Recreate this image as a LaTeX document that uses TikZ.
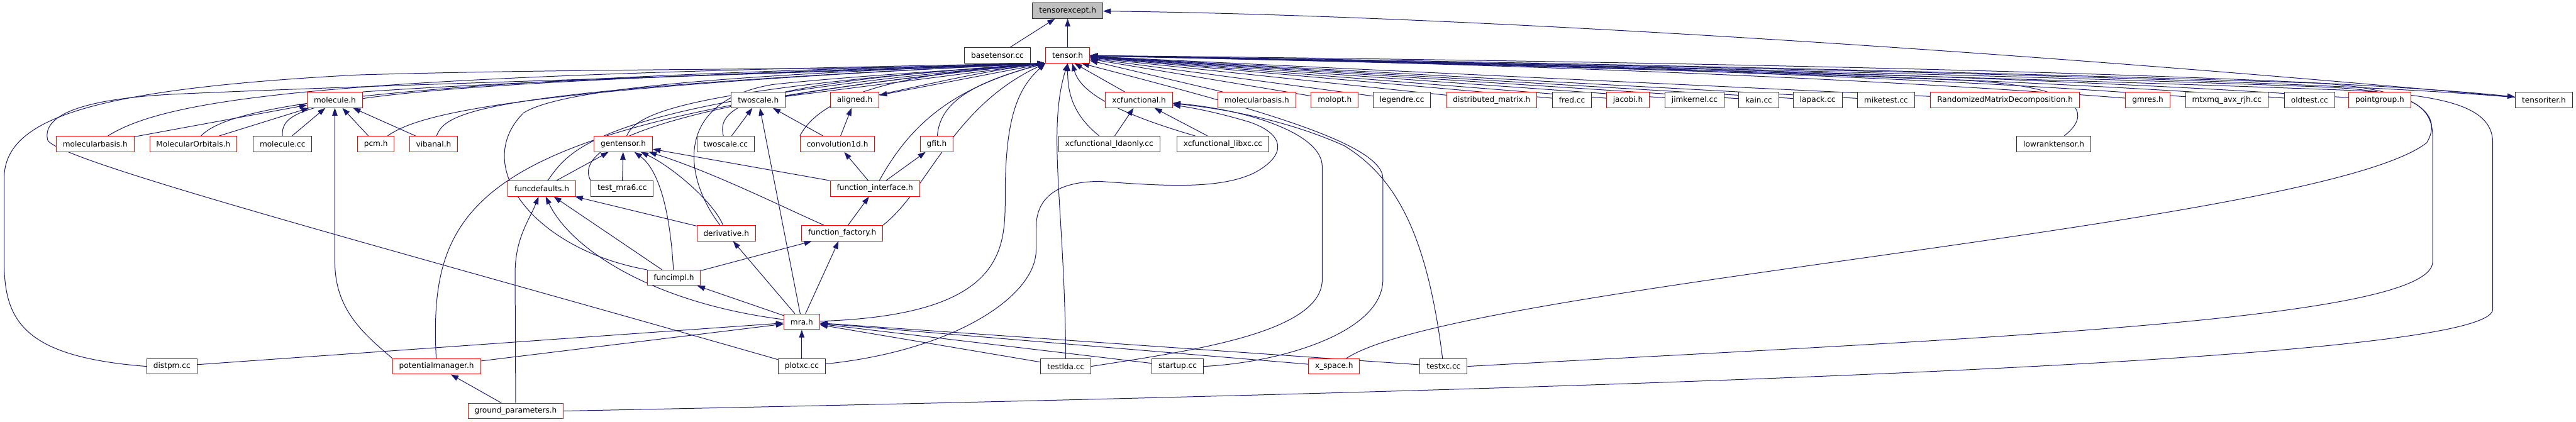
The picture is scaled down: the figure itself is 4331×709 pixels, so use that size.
\documentclass[tikz,border=0pt]{standalone}
\usepackage{fontspec}
\setmainfont{DejaVu Sans}
\usepackage{tikz}
\usetikzlibrary{arrows.meta, positioning, backgrounds}
\definecolor{edgeblue}{HTML}{191970}
\definecolor{rootgray}{HTML}{BFBFBF}

\begin{document}
\begin{tikzpicture}[
        % styles
        x=0.02cm, y=-0.02cm,
        >={Triangle[length=0.26cm, width=0.18cm]},
        filebox/.style={
            draw, rectangle, fill=white, line width=0.6pt,
            minimum height=0.52cm, inner xsep=0.22cm, inner ysep=0pt,
            font=\fontsize{7.3}{8.5}\selectfont
        },
        redfile/.style={filebox, draw=red},
        blackfile/.style={filebox, draw=black!80},
        rootfile/.style={filebox, draw=black!80, fill=rootgray},
        dep/.style={->, draw=edgeblue, line width=0.6pt}
    ]
    \useasboundingbox (0,0) rectangle (4331,709);

    % 1. files
    % top
    \node[rootfile] (tensorexcept) at (1795,18) {tensorexcept.h};
    \node[blackfile] (basetensor) at (1677,93) {basetensor.cc};
    \node[redfile] (tensor) at (1795,93) {tensor.h};

    % second row
    \node[redfile] (moleculeh) at (563,168) {molecule.h};
    \node[blackfile] (twoscaleh) at (1275,168) {twoscale.h};
    \node[redfile] (alignedh) at (1437,168) {aligned.h};
    \node[redfile] (xcfunc) at (1915,168) {xcfunctional.h};
    \node[redfile] (molbasisB) at (2113,168) {molecularbasis.h};
    \node[redfile] (molopt) at (2244,168) {molopt.h};
    \node[blackfile] (legendre) at (2357,168) {legendre.cc};
    \node[redfile] (distmatrix) at (2508,168) {distributed\_matrix.h};
    \node[blackfile] (fred) at (2643,168) {fred.cc};
    \node[redfile] (jacobi) at (2737,168) {jacobi.h};
    \node[blackfile] (jimkernel) at (2849,168) {jimkernel.cc};
    \node[blackfile] (kain) at (2957,168) {kain.cc};
    \node[blackfile] (lapack) at (3056,168) {lapack.cc};
    \node[blackfile] (miketest) at (3171,168) {miketest.cc};
    \node[redfile] (randmatdec) at (3371,168) {RandomizedMatrixDecomposition.h};
    \node[redfile] (gmres) at (3611,168) {gmres.h};
    \node[blackfile] (mtxmq) at (3744,168) {mtxmq\_avx\_rjh.cc};
    \node[blackfile] (oldtest) at (3883,168) {oldtest.cc};
    \node[redfile] (pointgroup) at (4001,168) {pointgroup.h};
    \node[blackfile] (tensoriter) at (4277,168) {tensoriter.h};

    % third row
    \node[redfile] (molbasisA) at (160,242) {molecularbasis.h};
    \node[redfile] (molorbitals) at (325,242) {MolecularOrbitals.h};
    \node[blackfile] (moleculecc) at (475,242) {molecule.cc};
    \node[redfile] (pcm) at (632,242) {pcm.h};
    \node[redfile] (vibanal) at (729,242) {vibanal.h};
    \node[redfile] (gentensor) at (1048,242) {gentensor.h};
    \node[blackfile] (twoscalecc) at (1220,242) {twoscale.cc};
    \node[redfile] (conv1d) at (1408,242) {convolution1d.h};
    \node[redfile] (gfit) at (1575,242) {gfit.h};
    \node[blackfile] (xcldaonly) at (1865,242) {xcfunctional\_ldaonly.cc};
    \node[blackfile] (xclibxc) at (2056,242) {xcfunctional\_libxc.cc};
    \node[blackfile] (lowrank) at (3453,242) {lowranktensor.h};

    % lower rows
    \node[redfile] (funcdefaults) at (911,317) {funcdefaults.h};
    \node[blackfile] (testmrasix) at (1046,317) {test\_mra6.cc};
    \node[redfile] (funcinterface) at (1471,317) {function\_interface.h};
    \node[redfile] (derivative) at (1221,392) {derivative.h};
    \node[redfile] (funcfactory) at (1416,392) {function\_factory.h};
    \node[redfile] (funcimpl) at (1133,467) {funcimpl.h};
    \node[redfile] (mra) at (1348,541) {mra.h};
    \node[blackfile] (distpm) at (289,616) {distpm.cc};
    \node[redfile] (potmanager) at (734,616) {potentialmanager.h};
    \node[blackfile] (plotxc) at (1348,616) {plotxc.cc};
    \node[blackfile] (testlda) at (1792,616) {testlda.cc};
    \node[blackfile] (startup) at (1980,616) {startup.cc};
    \node[redfile] (xspace) at (2243,616) {x\_space.h};
    \node[blackfile] (testxc) at (2427,616) {testxc.cc};
    \node[redfile] (groundparams) at (867,691) {ground\_parameters.h};

    % 2. include edges (arrow at the included file)
    \begin{pgfonlayer}{background}
    % into tensorexcept.h
    \draw[dep] (basetensor) -- (tensorexcept);
    \draw[dep] (tensor) -- (tensorexcept);
    \draw[dep] (tensoriter) .. controls (3300,78) and (2400,25) .. (tensorexcept);

    % into tensor.h from the left
    \draw[dep] (distpm.west) .. controls (40,600) and (7,540) .. (7,440) -- (7,300)
        .. controls (7,200) and (150,150) .. (600,126) .. controls (1000,114) and (1500,118) .. (tensor.south west);
    \draw[dep] (plotxc) .. controls (700,430) and (90,270) .. (80,235)
        .. controls (70,190) and (150,165) .. (300,158) .. controls (700,140) and (1400,122) .. (tensor.south west);
    \draw[dep] (molbasisA) .. controls (290,160) and (600,126) .. (tensor.south west);
    \draw[dep] (molorbitals) .. controls (380,185) and (560,134) .. (tensor.south west);
    \draw[dep] (moleculecc.north) .. controls (470,170) and (560,142) .. (tensor.south west);
    \draw[dep] (pcm) .. controls (700,195) and (830,150) .. (tensor.south west);
    \draw[dep] (vibanal) .. controls (750,185) and (820,150) .. (tensor.south west);
    \draw[dep] (moleculeh.north east) .. controls (900,134) and (1400,120) .. (tensor.south west);
    \draw[dep] (potmanager) .. controls (720,330) and (800,200) .. (tensor.south west);
    \draw[dep] (funcimpl.north west) .. controls (900,420) and (790,280) .. (880,190)
        .. controls (960,138) and (1400,120) .. (tensor.south west);
    \draw[dep] (funcdefaults) .. controls (960,250) and (1000,170) .. (tensor.south west);
    \draw[dep] (testmrasix.north west) .. controls (975,270) and (990,180) .. (tensor.south west);
    \draw[dep] (gentensor) .. controls (1070,190) and (1150,150) .. (tensor.south west);
    \draw[dep] (derivative) .. controls (1150,300) and (1130,170) .. (1300,142)
        .. controls (1450,126) and (1650,116) .. (tensor.south west);
    \draw[dep] (twoscaleh) -- (tensor.south west);
    \draw[dep] (tensor.south west) -- (alignedh);
    \draw[dep] (alignedh) .. controls (1550,144) and (1650,120) .. (tensor.south west);
    \draw[dep] (twoscalecc) .. controls (1200,170) and (1300,138) .. (tensor.south west);
    \draw[dep] (conv1d.north west) .. controls (1375,170) and (1480,125) .. (tensor.south west);
    \draw[dep] (gfit) .. controls (1580,170) and (1640,138) .. (tensor.south west);
    \draw[dep] (funcinterface) .. controls (1530,210) and (1600,148) .. (tensor.south west);
    \draw[dep] (funcfactory.north east) .. controls (1560,320) and (1600,180) .. (tensor.south west);
    \draw[dep] (mra) .. controls (1690,530) and (1690,420) .. (1690,330)
        .. controls (1690,200) and (1710,150) .. (tensor.south west);

    % into tensor.h from below
    \draw[dep] (testlda) .. controls (1790,350) and (1760,220) .. (tensor.south);
    \draw[dep] (xcldaonly) .. controls (1800,190) and (1795,150) .. (tensor.south);
    \draw[dep] (xclibxc) .. controls (1860,185) and (1815,150) .. (tensor.-60);
    \draw[dep] (xcfunc) -- (tensor.-50);
    \draw[dep] (startup.east) .. controls (2150,610) and (2325,560) .. (2325,470) -- (2325,300)
        .. controls (2325,240) and (2100,180) .. (tensor.-30);

    % into tensor.h from the right
    \draw[dep] (molbasisB) -- (tensor);
    \draw[dep] (molopt) -- (tensor);
    \draw[dep] (legendre) -- (tensor);
    \draw[dep] (distmatrix) -- (tensor);
    \draw[dep] (fred) -- (tensor);
    \draw[dep] (jacobi) -- (tensor);
    \draw[dep] (jimkernel) -- (tensor);
    \draw[dep] (kain) -- (tensor);
    \draw[dep] (lapack) -- (tensor);
    \draw[dep] (miketest) -- (tensor);
    \draw[dep] (randmatdec) -- (tensor);
    \draw[dep] (gmres) .. controls (3000,120) and (2200,100) .. (tensor);
    \draw[dep] (mtxmq) .. controls (3100,118) and (2200,100) .. (tensor);
    \draw[dep] (oldtest) .. controls (3200,118) and (2200,100) .. (tensor);
    \draw[dep] (pointgroup) .. controls (3300,118) and (2200,100) .. (tensor);
    \draw[dep] (lowrank) .. controls (3520,190) and (3500,145) .. (3300,135)
        .. controls (2800,115) and (2200,102) .. (tensor);
    \draw[dep] (tensor) .. controls (2500,100) and (3800,118) .. (tensoriter);
    \draw[dep] (tensoriter) .. controls (3800,126) and (2500,106) .. (tensor);
    \draw[dep] (xspace) .. controls (2450,480) and (3900,380) .. (4080,240)
        .. controls (4110,190) and (4060,150) .. (3900,140) .. controls (3200,116) and (2300,100) .. (tensor);
    \draw[dep] (testxc.east) .. controls (3300,570) and (4090,540) .. (4090,440) -- (4090,230)
        .. controls (4090,170) and (4040,152) .. (3900,146) .. controls (3200,120) and (2300,102) .. (tensor);
    \draw[dep] (groundparams.east) .. controls (3000,650) and (4191,600) .. (4191,520) -- (4191,240)
        .. controls (4191,175) and (4100,156) .. (3900,150) .. controls (3200,124) and (2300,104) .. (tensor);

    % molecule.h
    \draw[dep] (molbasisA) -- (moleculeh);
    \draw[dep] (molorbitals) -- (moleculeh);
    \draw[dep] (moleculecc) -- (moleculeh);
    \draw[dep] (pcm) -- (moleculeh);
    \draw[dep] (vibanal) -- (moleculeh);
    \draw[dep] (potmanager.north west) .. controls (610,560) and (563,520) .. (563,440) -- (moleculeh.south);

    % gentensor.h
    \draw[dep] (funcdefaults) -- (gentensor);
    \draw[dep] (testmrasix) -- (gentensor);
    \draw[dep] (funcimpl) .. controls (1125,330) and (1100,280) .. (gentensor);
    \draw[dep] (derivative) .. controls (1200,340) and (1130,280) .. (gentensor);
    \draw[dep] (funcfactory) .. controls (1320,350) and (1200,290) .. (gentensor);
    \draw[dep] (funcinterface) -- (gentensor);

    % twoscale.h, aligned.h, convolution1d.h, gfit.h
    \draw[dep] (twoscalecc) -- (twoscaleh);
    \draw[dep] (conv1d) -- (twoscaleh);
    \draw[dep] (mra) -- (twoscaleh);
    \draw[dep] (conv1d) -- (alignedh);
    \draw[dep] (funcinterface) -- (conv1d);
    \draw[dep] (funcinterface) -- (gfit);
    \draw[dep] (funcfactory) -- (funcinterface);

    % funcdefaults.h
    \draw[dep] (groundparams.north) -- (866,460) .. controls (866,400) and (890,370) .. (funcdefaults);
    \draw[dep] (mra) .. controls (1100,510) and (960,420) .. (funcdefaults);
    \draw[dep] (funcimpl) -- (funcdefaults);
    \draw[dep] (derivative) -- (funcdefaults);

    % derivative.h, function_factory.h, funcimpl.h
    \draw[dep] (mra) -- (derivative);
    \draw[dep] (mra) -- (funcfactory);
    \draw[dep] (funcimpl) -- (funcfactory);
    \draw[dep] (mra) -- (funcimpl);

    % mra.h
    \draw[dep] (plotxc) -- (mra);
    \draw[dep] (distpm) -- (mra);
    \draw[dep] (potmanager) -- (mra);
    \draw[dep] (testlda) -- (mra);
    \draw[dep] (startup) -- (mra);
    \draw[dep] (xspace) -- (mra);
    \draw[dep] (testxc) -- (mra);
    \draw[dep] (groundparams) -- (potmanager);

    % xcfunctional.h
    \draw[dep] (xcldaonly) -- (xcfunc);
    \draw[dep] (xclibxc) -- (xcfunc);
    \draw[dep] (testlda.east) .. controls (2000,590) and (2223,560) .. (2223,470) -- (2223,280)
        .. controls (2223,225) and (2100,185) .. (xcfunc);
    \draw[dep] (testxc) .. controls (2400,400) and (2350,300) .. (2260,245)
        .. controls (2160,200) and (2050,182) .. (xcfunc);
    \draw[dep] (plotxc) .. controls (1600,590) and (1742,500) .. (1742,420) -- (1742,383)
        .. controls (1742,330) and (1780,305) .. (1850,305) .. controls (1950,312) and (2050,320) .. (2110,290)
        .. controls (2165,260) and (2160,225) .. (2100,205) .. controls (2050,190) and (2010,182) .. (xcfunc);
    \end{pgfonlayer}

\end{tikzpicture}
\end{document}
